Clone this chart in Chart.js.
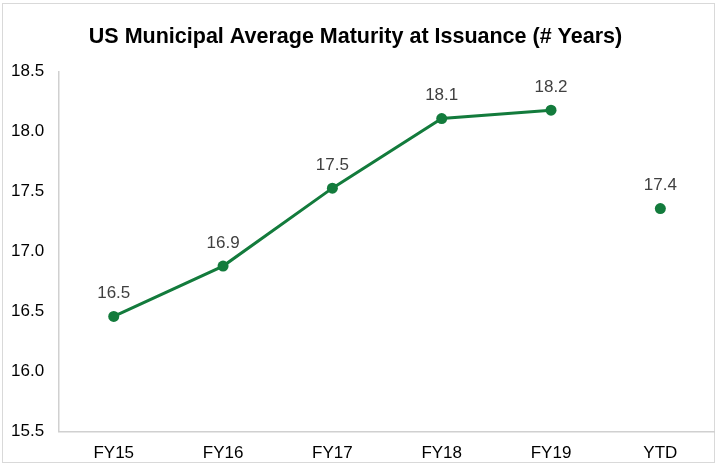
<!DOCTYPE html>
<html>
<head>
<meta charset="utf-8">
<script src="https://cdn.jsdelivr.net/npm/chart.js@4/dist/chart.umd.min.js"></script>
<style>
  html, body { margin: 0; padding: 0; background: #fff; }
  #wrap { position: relative; width: 715px; height: 465px; }
</style>
</head>
<body>
<div id="wrap"><canvas id="chart"></canvas></div>
<script>
const categories = ['FY15', 'FY16', 'FY17', 'FY18', 'FY19', 'YTD']
const maturityYears = [16.46, 16.88, 17.53, 18.11, 18.18, 17.36]
const yTicks = [15.5, 16.0, 16.5, 17.0, 17.5, 18.0, 18.5]

const green = '#137b3c'
const fontFamily = '"Liberation Sans", Arial, sans-serif'

// labels over the points, one decimal
const pointLabels = {
  id: 'pointLabels',
  afterDatasetsDraw(chart) {
    const ctx = chart.ctx
    const meta = chart.getDatasetMeta(0)
    ctx.save()
    ctx.font = '17px ' + fontFamily
    ctx.fillStyle = '#404040'
    ctx.textAlign = 'center'
    ctx.textBaseline = 'middle'
    meta.data.forEach((pt, i) => {
      ctx.fillText(maturityYears[i].toFixed(1), pt.x, pt.y - 23)
    })
    ctx.restore()
  }
}

// thin frame round the whole chart
const frame = {
  id: 'frame',
  beforeDraw(chart) {
    const ctx = chart.ctx
    ctx.save()
    ctx.strokeStyle = '#d9d9d9'
    ctx.lineWidth = 1
    ctx.strokeRect(2.5, 3.5, chart.width - 3, chart.height - 6)
    ctx.restore()
  }
}

new Chart(document.getElementById('chart'), {
  type: 'line',
  data: {
    labels: categories,
    datasets: [{
      data: maturityYears,
      borderColor: green,
      backgroundColor: green,
      borderWidth: 3,
      pointRadius: 5.5,
      pointHoverRadius: 5.5,
      pointBackgroundColor: green,
      pointBorderWidth: 0,
      tension: 0,
      segment: {
        borderColor: c => c.p1DataIndex === categories.length - 1 ? 'transparent' : green
      }
    }]
  },
  options: {
    responsive: true,
    maintainAspectRatio: false,
    animation: false,
    layout: { autoPadding: false, padding: { left: -4, right: 0, top: 0, bottom: -11 } },
    plugins: {
      legend: { display: false },
      tooltip: { enabled: false },
      title: {
        display: true,
        text: 'US Municipal Average Maturity at Issuance (# Years)',
        color: '#000',
        font: { family: fontFamily, size: 21.5, weight: 'bold' },
        padding: { top: 24, bottom: 22 }
      }
    },
    scales: {
      x: {
        offset: true,
        grid: { display: false, drawTicks: false },
        border: { display: true, color: '#d0d0d0', width: 1.5 },
        ticks: {
          color: '#000',
          padding: 12,
          font: { family: fontFamily, size: 17 }
        }
      },
      y: {
        min: 15.5,
        max: 18.5,
        afterBuildTicks: axis => { axis.ticks = yTicks.map(v => ({ value: v })) },
        grid: { display: false, drawTicks: false },
        border: { display: true, color: '#d0d0d0', width: 1.5 },
        ticks: {
          color: '#000',
          padding: 15,
          callback: v => Number(v).toFixed(1),
          font: { family: fontFamily, size: 17 }
        }
      }
    }
  },
  plugins: [frame, pointLabels]
})
</script>
</body>
</html>
